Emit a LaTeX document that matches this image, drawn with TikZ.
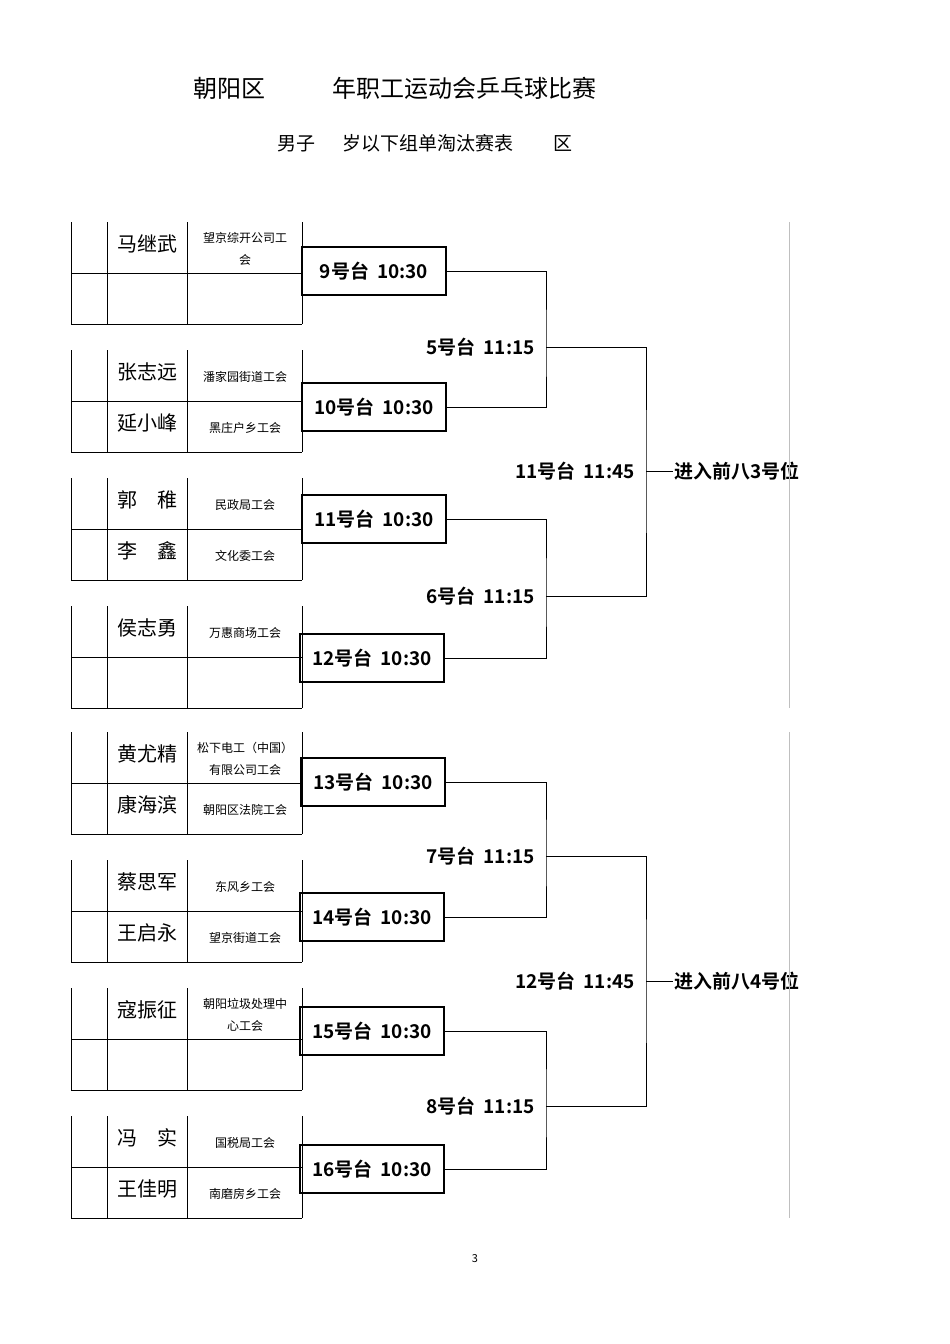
\documentclass[tikz,border=0pt]{standalone}
\usepackage{fontspec}
\setmainfont{Noto Sans CJK SC}
\newfontfamily\cjkb{Noto Sans CJK SC Bold}
\begin{document}
\begin{tikzpicture}[x=1pt,y=-1pt,
  tline/.style={line width=0.9pt},
  mbox/.style={draw,line width=1.1pt,minimum width=144pt,minimum height=48pt,font=\cjkb\fontsize{19}{20}\selectfont,inner sep=0pt},
  rlabel/.style={font=\cjkb\fontsize{19}{20}\selectfont,inner sep=1pt},
  pname/.style={font=\fontsize{20}{22}\selectfont,inner sep=0pt},
  punit/.style={font=\fontsize{12}{22}\selectfont,align=center,inner sep=0pt}]
\useasboundingbox (0,0) rectangle (950,1344);
\node (t1) at (395,88) {\fontsize{24}{26}\selectfont 朝阳区\hspace{68pt}年职工运动会乒乓球比赛};
\node (t2) at (425,143) {\fontsize{19}{22}\selectfont 男子\hspace{28pt}岁以下组单淘汰赛表\hspace{40pt}区};
\node (pg) at (475,1259) {\fontsize{11}{12}\selectfont 3};
% tables
\foreach \t in {222,350,478,606,732,860,988,1116}{
  \draw[tline] (71,\t) -- (71,\t+102) (107,\t) -- (107,\t+102) (187,\t) -- (187,\t+102) (302,\t) -- (302,\t+102);
  \draw[tline] (71,\t+51) -- (302,\t+51) (71,\t+102) -- (302,\t+102);
}
\foreach \y/\n/\u [count=\i] in {
 222/马继武/望京综开公司工\\会, 273/{}/{},
 350/张志远/潘家园街道工会, 401/延小峰/黑庄户乡工会,
 478/郭\hspace{20pt}稚/民政局工会, 529/李\hspace{20pt}鑫/文化委工会,
 606/侯志勇/万惠商场工会, 657/{}/{},
 732/黄尤精/松下电工（中国）\\有限公司工会, 783/康海滨/朝阳区法院工会,
 860/蔡思军/东风乡工会, 911/王启永/望京街道工会,
 988/寇振征/朝阳垃圾处理中\\心工会, 1040/{}/{},
 1116/冯\hspace{20pt}实/国税局工会, 1167/王佳明/南磨房乡工会}{
  \node[pname] (n\i) at (147,\y+22) {\n};
  \node[punit] (u\i) at (245,\y+27) {\u};
}
% first round boxes
\foreach \i/\x/\y/\lab in {1/374/271/9号台,2/374/407/10号台,3/374/519/11号台,4/372/658/12号台,
  5/373/782/13号台,6/372/917/14号台,7/372/1031/15号台,8/372/1169/16号台}{
  \node[mbox] (b\i) at (\x,\y) {\lab\hspace{8pt}10:30};
}
\foreach \p/\a/\b/\y/\lab in {1/b1/b2/347/5号台,2/b3/b4/596/6号台,3/b5/b6/856/7号台,4/b7/b8/1106/8号台}{
  \draw[line width=0.9pt] (\a.east) -| (546,\y) |- (\b.east);
  \node[rlabel,anchor=east] (r\p) at (536,\y) {\lab\hspace{8pt}11:15};
  \coordinate (rc\p) at (546,\y);
}
\draw[line width=0.9pt] (rc1) -| (646,471) |- (rc2);
\draw[line width=0.9pt] (rc3) -| (646,981) |- (rc4);
\node[rlabel,anchor=east] (s1) at (636,471) {11号台\hspace{8pt}11:45};
\node[rlabel,anchor=east] (s2) at (636,981) {12号台\hspace{8pt}11:45};
\node[rlabel,anchor=west] (f1) at (673,471) {进入前八3号位};
\node[rlabel,anchor=west] (f2) at (673,981) {进入前八4号位};
\draw[line width=0.9pt] (646,471) -- (f1.west);
\draw[line width=0.9pt] (646,981) -- (f2.west);
\draw[gray!50,line width=0.6pt] (789,222) -- (789,708) (789,732) -- (789,1218);
\end{tikzpicture}
\end{document}
